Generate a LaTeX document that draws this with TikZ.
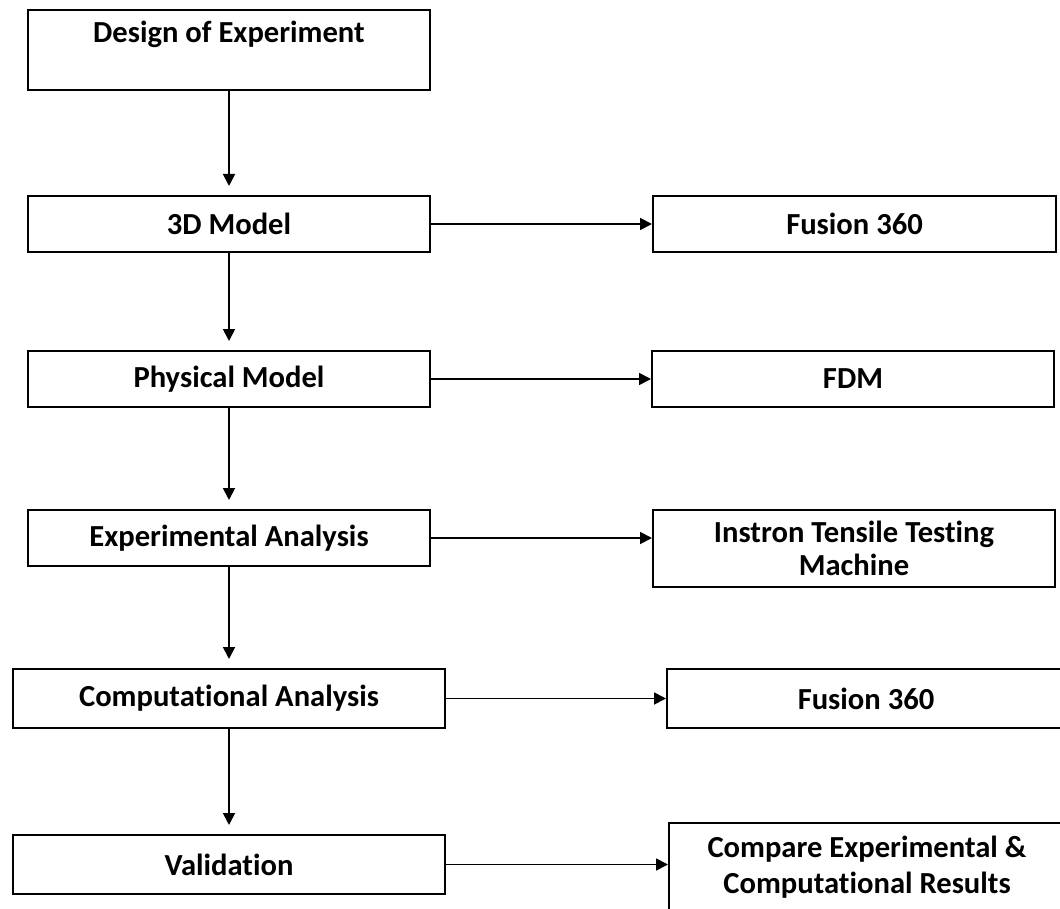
\documentclass[tikz,border=0pt]{standalone}
\usepackage{fontspec}
\setmainfont{Carlito}[Ligatures=NoCommon]
\usepackage{tikz}
\usetikzlibrary{positioning, arrows.meta}
\tikzset{step_box/.style={draw, line width=1pt, align=center, inner sep=2pt, font=\bfseries\fontsize{15.3}{16.5}\selectfont, minimum width=201pt, minimum height=28pt},flow/.style={-{Triangle[length=6pt, width=6pt]}, line width=0.9pt}}

\begin{document}
\begin{tikzpicture}[
   wide/.style={minimum width=216pt, minimum height=29.5pt},
   dflow/.style={flow, shorten >=4.5pt}]

  \useasboundingbox (0,0) rectangle (530pt,-454.5pt);

  % main chain
  \node[step_box, minimum height=40pt] (doe) at (114.5pt,-25pt) {Design of Experiment\\[-3pt] \strut};
  \node[step_box, below=52pt of doe] (model) {3D Model};
  \node[step_box, below=48.5pt of model] (phys) {Physical Model};
  \node[step_box, below=50.5pt of phys] (exp) {Experimental Analysis};
  \node[step_box, wide, below=50.5pt of exp] (comp) {Computational Analysis};
  \node[step_box, wide, below=52.5pt of comp] (valid) {Validation};

  % tools / outputs
  \node[step_box, minimum width=201.5pt, right=110.5pt of model] (fus1) {Fusion 360};
  \node[step_box, right=110pt of phys] (fdm) {FDM};
  \node[step_box, minimum height=38.5pt, right=110.5pt of exp.north east, anchor=north west] (inst)
    {Instron Tensile Testing\\ Machine};
  \node[step_box, wide, minimum width=199pt, right=110pt of comp] (fus2) {Fusion 360};
  \node[step_box, minimum width=198pt, minimum height=44pt, right=111pt of valid.north east, anchor=north west, yshift=6pt] (cmp)
    {Compare Experimental \&\\[1.5pt] Computational Results};

  % vertical flow
  \draw[dflow] (doe) -- (model);
  \draw[dflow] (model) -- (phys);
  \draw[dflow] (phys) -- (exp);
  \draw[dflow] (exp) -- (comp);
  \draw[dflow] (comp) -- (valid);

  % side arrows
  \draw[flow] (model.east) -- (model.east -| fus1.west);
  \draw[flow] (phys.east) -- (phys.east -| fdm.west);
  \draw[flow] (exp.east) -- (exp.east -| inst.west);
  \draw[flow] (comp.east) -- (comp.east -| fus2.west);
  \draw[flow] (valid.east) -- (valid.east -| cmp.west);
\end{tikzpicture}
\end{document}
